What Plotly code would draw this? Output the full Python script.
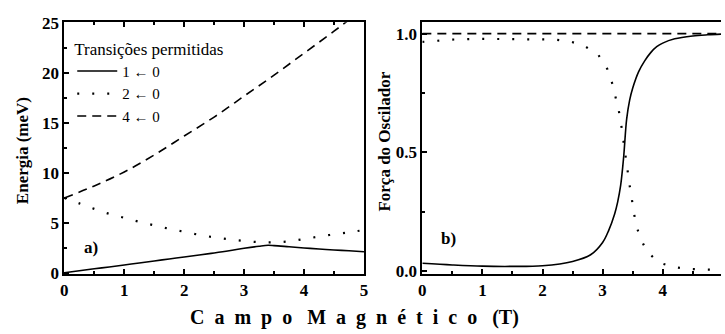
import plotly.graph_objects as go

# ---- data (left panel: transition energies, meV) ----
B_e1 = [0, 0.25, 0.5, 0.75, 1.0, 1.25, 1.5, 1.75, 2.0, 2.25, 2.5, 2.75, 3.0, 3.25, 3.4, 3.5, 3.75, 4.0, 4.25, 4.5, 4.75, 5.0]
E1 = [0, 0.2, 0.4, 0.58, 0.78, 0.98, 1.18, 1.38, 1.58, 1.78, 1.98, 2.2, 2.45, 2.66, 2.75, 2.72, 2.6, 2.48, 2.38, 2.28, 2.2, 2.1]

B_e2 = [0, 0.25, 0.5, 0.75, 1.0, 1.25, 1.5, 1.75, 2.0, 2.25, 2.5, 2.75, 3.0, 3.25, 3.5, 3.75, 4.0, 4.25, 4.5, 4.75, 5.0]
E2 = [7.5, 6.95, 6.4, 5.9, 5.5, 5.1, 4.75, 4.4, 4.1, 3.8, 3.55, 3.35, 3.18, 3.07, 3.05, 3.15, 3.38, 3.62, 3.85, 4.05, 4.28]

B_e4 = [0, 0.5, 1.0, 1.5, 2.0, 2.5, 3.0, 3.5, 4.0, 4.5, 5.0]
E4 = [7.5, 8.7, 10.1, 11.8, 13.7, 15.6, 17.7, 19.8, 22.0, 24.2, 26.5]

# ---- data (right panel: oscillator strength) ----
B_f1 = [0, 0.5, 1.0, 1.5, 2.0, 2.5, 2.8, 3.0, 3.1, 3.2, 3.25, 3.3, 3.35, 3.4, 3.45, 3.5, 3.6, 3.7, 3.8, 3.9, 4.0, 4.2, 4.5, 4.75, 5.0]
F1 = [0.032, 0.025, 0.02, 0.019, 0.022, 0.04, 0.068, 0.12, 0.17, 0.24, 0.29, 0.36, 0.48, 0.64, 0.72, 0.77, 0.84, 0.885, 0.92, 0.945, 0.96, 0.978, 0.99, 0.995, 0.998]

B_f2 = [0, 0.5, 1.0, 1.5, 2.0, 2.2, 2.45, 2.7, 2.93, 3.08, 3.16, 3.21, 3.27, 3.31, 3.34, 3.40, 3.45, 3.50, 3.55, 3.62, 3.73, 3.93, 4.18, 4.42, 4.67, 5.0]
F2 = [0.965, 0.975, 0.978, 0.978, 0.977, 0.975, 0.968, 0.948, 0.91, 0.85, 0.79, 0.735, 0.675, 0.615, 0.56, 0.44, 0.36, 0.28, 0.2, 0.144, 0.084, 0.036, 0.016, 0.008, 0.006, 0.004]

B_f4 = [0, 1.0, 2.0, 3.0, 4.0, 5.0]
F4 = [1.0, 1.0, 1.0, 1.0, 1.0, 1.0]

names = ["1 \u2190 0", "2 \u2190 0", "4 \u2190 0"]

x_ticks = [0, 1, 2, 3, 4, 5]
x_ticktext = ["0", "1", "2", "3", "4", "5"]
e_ticks = [0, 5, 10, 15, 20, 25]
e_ticktext = ["0", "5", "10", "15", "20", "25"]
f_ticks = [0, 0.5, 1.0]
f_ticktext = ["0.0", "0.5", "1.0"]

FONT = "Liberation Serif"
DOT = "2px,13px"
DASH = "9px,6px"
LW = 1.6

fig = go.Figure()
fig.add_trace(go.Scatter(x=B_e1, y=E1, mode="lines", name=names[0], line=dict(color="black", width=LW, shape="spline"), xaxis="x", yaxis="y"))
fig.add_trace(go.Scatter(x=B_e2, y=E2, mode="lines", name=names[1], line=dict(color="black", width=2.2, dash=DOT, shape="spline"), xaxis="x", yaxis="y"))
fig.add_trace(go.Scatter(x=B_e4, y=E4, mode="lines", name=names[2], line=dict(color="black", width=LW, dash=DASH, shape="spline"), xaxis="x", yaxis="y"))

fig.add_trace(go.Scatter(x=B_f1, y=F1, mode="lines", showlegend=False, line=dict(color="black", width=LW, shape="spline"), xaxis="x2", yaxis="y2"))
fig.add_trace(go.Scatter(x=B_f2, y=F2, mode="lines", showlegend=False, line=dict(color="black", width=2.2, dash=DOT), xaxis="x2", yaxis="y2"))
fig.add_trace(go.Scatter(x=B_f4, y=F4, mode="lines", showlegend=False, line=dict(color="black", width=LW, dash=DASH), xaxis="x2", yaxis="y2"))

W, H = 725, 334
def px_x(p):
    return p / W
def px_y(p):
    return 1 - p / H

def bold(lst):
    return ["<b>%s</b>" % t for t in lst]

minor_x = dict(dtick=0.5, ticks="inside", ticklen=3, tickwidth=2, tickcolor="black")

g = "\u00a0\u00a0"
w = "\u00a0\u00a0\u00a0"
xtitle = g.join("Campo") + w + g.join("Magnético") + w + "(T)"

fig.update_layout(
    width=W, height=H, margin=dict(l=0, r=0, t=0, b=0),
    paper_bgcolor="white", plot_bgcolor="white",
    font=dict(family=FONT, size=17, color="black", weight="bold"),
    xaxis=dict(domain=[px_x(61), px_x(364)], range=[0, 5], tickvals=x_ticks, ticktext=bold(x_ticktext),
               mirror="ticks", minor=minor_x, anchor="y"),
    yaxis=dict(domain=[px_y(280), px_y(15)], range=[-0.1, 25.1], tickvals=e_ticks, ticktext=bold(e_ticktext),
               mirror=True, minor=dict(dtick=2.5, ticks="inside", ticklen=3, tickwidth=2, tickcolor="black"),
               anchor="x"),
    xaxis2=dict(domain=[px_x(423), 1.0], range=[0, 4.97], tickvals=x_ticks, ticktext=bold(x_ticktext),
                mirror=True, minor=minor_x, anchor="y2"),
    yaxis2=dict(domain=[px_y(280), px_y(15)], range=[-0.012, 1.048], tickvals=f_ticks,
                ticktext=bold(f_ticktext), mirror=False,
                minor=dict(tickvals=[0.25, 0.75], ticks="inside", ticklen=3, tickwidth=2, tickcolor="black"),
                anchor="x2"),
    legend=dict(x=px_x(69), y=px_y(26), xanchor="left", yanchor="top",
                bgcolor="rgba(0,0,0,0)", itemwidth=40,
                font=dict(family=FONT, size=15, color="black", weight="normal"),
                title=dict(text="Transições permitidas", font=dict(family=FONT, size=17, color="black", weight="normal"))),
    annotations=[
        dict(text="<b>%s</b>" % xtitle, x=px_x(354), y=px_y(326), xref="paper", yref="paper",
             xanchor="center", yanchor="middle",
             showarrow=False, font=dict(family=FONT, size=20, color="black")),
        dict(text="<b>Energia (meV)</b>", x=px_x(19), y=px_y(150), xref="paper", yref="paper", textangle=-90,
             xanchor="center", yanchor="middle",
             showarrow=False, font=dict(family=FONT, size=17, color="black")),
        dict(text="<b>Força do Oscilador</b>", x=px_x(385), y=px_y(141), xref="paper", yref="paper", textangle=-90,
             xanchor="center", yanchor="middle",
             showarrow=False, font=dict(family=FONT, size=17, color="black")),
        dict(text="<b>a)</b>", x=0.45, y=2.5, xref="x", yref="y", showarrow=False,
             xanchor="center", yanchor="middle",
             font=dict(family=FONT, size=17, color="black")),
        dict(text="<b>b)</b>", x=0.43, y=0.136, xref="x2", yref="y2", showarrow=False,
             xanchor="center", yanchor="middle",
             font=dict(family=FONT, size=17, color="black")),
    ],
)

axis_style = dict(showgrid=False, zeroline=False, showline=True, linecolor="black", linewidth=2,
                  ticks="inside", ticklen=5, tickwidth=2, tickcolor="black")
fig.update_xaxes(**axis_style)
fig.update_yaxes(**axis_style)

fig.write_html("out.html")
